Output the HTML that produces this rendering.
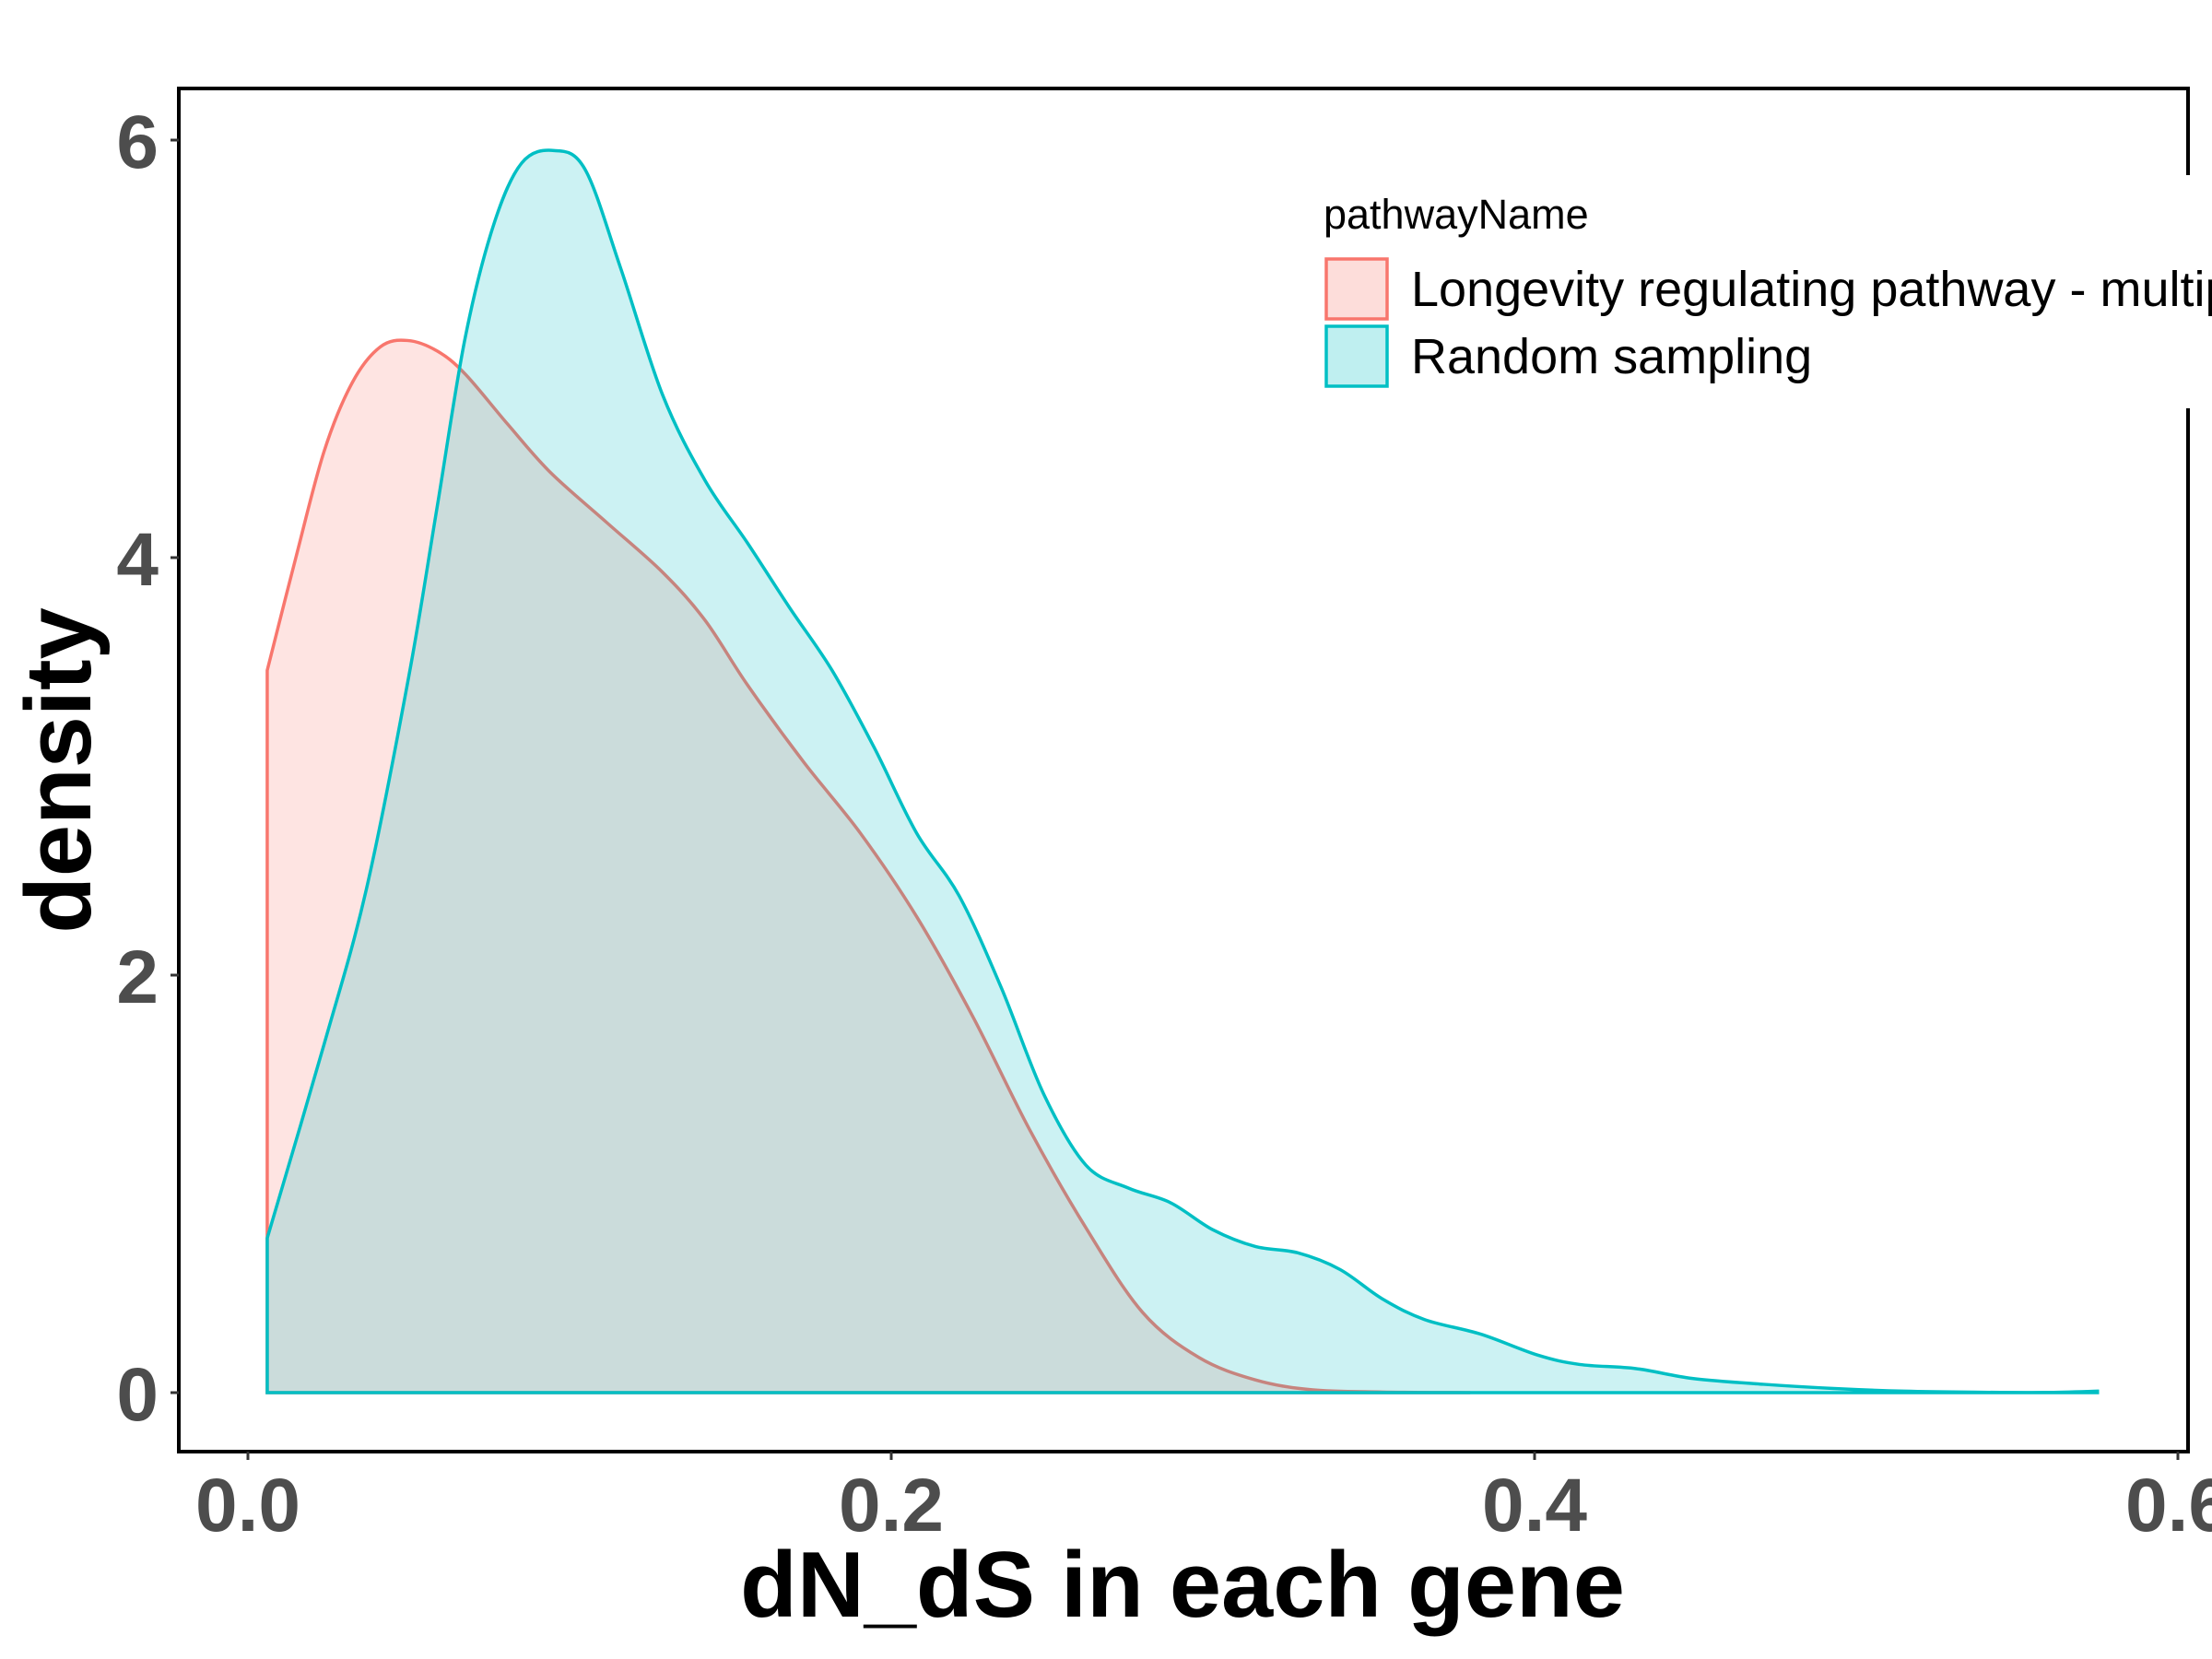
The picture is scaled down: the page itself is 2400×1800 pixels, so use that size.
<!DOCTYPE html>
<html><head><meta charset="utf-8"><style>
html,body{margin:0;padding:0;background:#fff;}
svg{display:block;}
</style></head><body>
<svg id="chart" width="2400" height="1800" xmlns="http://www.w3.org/2000/svg">
<rect width="2400" height="1800" fill="#fff"/>
<g id="plot"></g>
<g id="axes"></g>
<rect x="1400" y="190" width="1000" height="253" fill="#fff"/>
<g>
<text x="1436" y="248" font-family="Liberation Sans, sans-serif" font-size="45" fill="#000">pathwayName</text>
<rect x="1439" y="281" width="66" height="65" fill="#F8766D" fill-opacity="0.25" stroke="#F8766D" stroke-width="3.5"/>
<rect x="1439" y="354" width="66" height="65" fill="#00BFC4" fill-opacity="0.25" stroke="#00BFC4" stroke-width="3.5"/>
<text x="1531" y="332" font-family="Liberation Sans, sans-serif" font-size="54" fill="#000">Longevity regulating pathway - multiple species</text>
<text x="1531" y="405" font-family="Liberation Sans, sans-serif" font-size="54" fill="#000">Random sampling</text>
</g>
<text x="1283" y="1754" text-anchor="middle" font-family="Liberation Sans, sans-serif" font-weight="bold" font-size="101" fill="#000">dN_dS in each gene</text>
<text transform="translate(98,836) rotate(-90)" text-anchor="middle" font-family="Liberation Sans, sans-serif" font-weight="bold" font-size="101" fill="#000">density</text>
</svg>
<script>
const xTicks = [0.0, 0.2, 0.4, 0.6];
const xTickLabels = ["0.0", "0.2", "0.4", "0.6"];
const yTicks = [0, 2, 4, 6];
const yTickLabels = ["0", "2", "4", "6"];
const seriesNames = ["Longevity regulating pathway - multiple species", "Random sampling"];
const longevityX = [0.006,0.0149,0.0237,0.0325,0.0412,0.0496,0.0588,0.0675,0.0807,0.0939,0.1114,0.1289,0.1421,0.1553,0.1728,0.1904,0.2079,0.2254,0.243,0.2605,0.2781,0.2956,0.3132,0.3307,0.3526,0.38];
const longevityY = [3.46,4.0,4.51,4.84,5.01,5.04,4.99,4.88,4.64,4.41,4.17,3.93,3.70,3.39,3.02,2.68,2.28,1.80,1.26,0.79,0.385,0.169,0.061,0.014,0.003,0];
const randomX = [0.006,0.0237,0.0368,0.05,0.0588,0.0675,0.0763,0.0851,0.0952,0.1048,0.1158,0.1289,0.1421,0.1553,0.1684,0.1816,0.1947,0.2079,0.2211,0.2342,0.2474,0.2605,0.2737,0.2868,0.3,0.3132,0.3263,0.3395,0.3526,0.3658,0.3833,0.4009,0.414,0.4316,0.4491,0.4711,0.493,0.5149,0.5368,0.5588,0.575];
const randomY = [0.74,1.67,2.41,3.43,4.24,5.05,5.59,5.89,5.95,5.86,5.39,4.78,4.37,4.07,3.76,3.46,3.09,2.68,2.38,1.94,1.43,1.09,0.98,0.91,0.78,0.70,0.67,0.59,0.45,0.35,0.28,0.18,0.135,0.115,0.068,0.04,0.02,0.007,0.002,0.001,0.007];

const NS = "http://www.w3.org/2000/svg";
const P = {l:194, t:96, r:2374, b:1575};
const xs = v => 269 + v * (2363 - 269) / 0.6;
const ys = v => 1511 - v * (1511 - 152) / 6;

function smoothPath(X, Y) {
  const pts = X.map((x, i) => [xs(x), ys(Y[i])]);
  let d = "M" + pts[0][0] + "," + pts[0][1];
  for (let i = 0; i < pts.length - 1; i++) {
    const p0 = pts[Math.max(0, i - 1)], p1 = pts[i], p2 = pts[i + 1], p3 = pts[Math.min(pts.length - 1, i + 2)];
    const c1x = p1[0] + (p2[0] - p0[0]) / 6, c1y = p1[1] + (p2[1] - p0[1]) / 6;
    const c2x = p2[0] - (p3[0] - p1[0]) / 6, c2y = p2[1] - (p3[1] - p1[1]) / 6;
    d += " C" + c1x + "," + c1y + " " + c2x + "," + c2y + " " + p2[0] + "," + p2[1];
  }
  return d;
}

const plot = document.getElementById("plot");
function addSeries(X, Y, color, op, name) {
  const curve = smoothPath(X, Y);
  const x0 = xs(X[0]), x1 = xs(X[X.length - 1]), y0 = ys(0);
  const d = "M" + x0 + "," + y0 + " L" + curve.slice(1) + " L" + x1 + "," + y0 + " Z";
  const area = document.createElementNS(NS, "path");
  area.setAttribute("d", d);
  area.setAttribute("fill", color);
  area.setAttribute("fill-opacity", op);
  area.setAttribute("stroke", "none");
  
  
  plot.appendChild(area);
  const line = document.createElementNS(NS, "path");
  line.setAttribute("d", d);
  line.setAttribute("fill", "none");
  line.setAttribute("stroke", color);
  line.setAttribute("stroke-width", "3.5");
  
  
  plot.appendChild(line);
}
addSeries(longevityX, longevityY, "#F8766D", 0.2, "longevity");
addSeries(randomX, randomY, "#00BFC4", 0.2, "random-sampling");

const axes = document.getElementById("axes");
const border = document.createElementNS(NS, "rect");
border.setAttribute("x", P.l); border.setAttribute("y", P.t);
border.setAttribute("width", P.r - P.l); border.setAttribute("height", P.b - P.t);
border.setAttribute("fill", "none"); border.setAttribute("stroke", "#000"); border.setAttribute("stroke-width", "4");


axes.appendChild(border);

xTicks.forEach((v, i) => {
  const x = xs(v);
  const tk = document.createElementNS(NS, "line");
  tk.setAttribute("x1", x); tk.setAttribute("x2", x); tk.setAttribute("y1", P.b); tk.setAttribute("y2", P.b + 9);
  tk.setAttribute("stroke", "#333"); tk.setAttribute("stroke-width", "3");
  
  
  axes.appendChild(tk);
  const t = document.createElementNS(NS, "text");
  t.setAttribute("x", x); t.setAttribute("y", P.b + 86);
  t.setAttribute("text-anchor", "middle");
  t.setAttribute("font-family", "Liberation Sans, sans-serif");
  t.setAttribute("font-weight", "bold"); t.setAttribute("font-size", "82"); t.setAttribute("fill", "#4D4D4D");
  t.textContent = xTickLabels[i];
  
  
  axes.appendChild(t);
});
yTicks.forEach((v, i) => {
  const y = ys(v);
  const tk = document.createElementNS(NS, "line");
  tk.setAttribute("x1", P.l - 9); tk.setAttribute("x2", P.l); tk.setAttribute("y1", y); tk.setAttribute("y2", y);
  tk.setAttribute("stroke", "#333"); tk.setAttribute("stroke-width", "3");
  
  
  axes.appendChild(tk);
  const t = document.createElementNS(NS, "text");
  t.setAttribute("x", 172); t.setAttribute("y", y + 30);
  t.setAttribute("text-anchor", "end");
  t.setAttribute("font-family", "Liberation Sans, sans-serif");
  t.setAttribute("font-weight", "bold"); t.setAttribute("font-size", "82"); t.setAttribute("fill", "#4D4D4D");
  t.textContent = yTickLabels[i];
  
  
  axes.appendChild(t);
});
</script>
</body></html>
